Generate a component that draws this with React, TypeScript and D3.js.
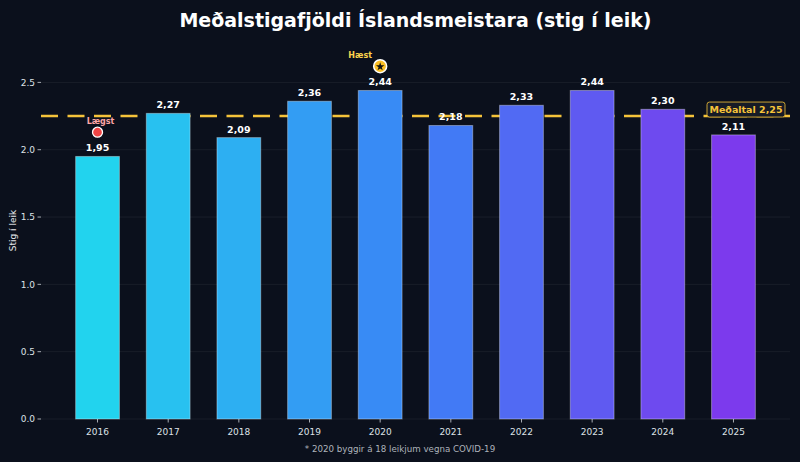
import * as d3 from "d3";

const years = ["2016", "2017", "2018", "2019", "2020", "2021", "2022", "2023", "2024", "2025"];
const values = [1.95, 2.27, 2.09, 2.36, 2.44, 2.18, 2.33, 2.44, 2.3, 2.11];
const yTicks = [0, 0.5, 1.0, 1.5, 2.0, 2.5];
const average = 2.25;

const W = 800;
const H = 462;
const M = { top: 42, right: 10, bottom: 43, left: 41 };
const FONT = "DejaVu Sans, sans-serif";
const BG = "#0b101c";
const GOLD = "#f5c33a";

const fmt = (v: number) => v.toFixed(2).replace(".", ",");

export default function App() {
  const x = d3.scaleLinear().domain([-0.8, 9.8]).range([M.left, W - M.right]);
  const y = d3.scaleLinear().domain([0, 2.8]).range([H - M.bottom, M.top]);
  const color = d3
    .scaleLinear<string>()
    .domain([0, 0.5, 1])
    .range(["#22d3ee", "#3b82f6", "#7c3aed"])
    .interpolate(d3.interpolateRgb);

  const bw = 0.62;
  const minI = values.indexOf(d3.min(values)!);
  const maxI = values.indexOf(d3.max(values)!);

  // five-point star path
  const star = d3.symbol(d3.symbolStar, 22)()!;

  return (
    <svg width={W} height={H} style={{ display: "block", position: "absolute", left: 0, top: 0, background: BG }}>
      <rect width={W} height={H} fill={BG} />
      <text x={(M.left + W - M.right) / 2} y={27} textAnchor="middle" fill="#ffffff" fontFamily={FONT} fontWeight="bold" fontSize={19}>
        Meðalstigafjöldi Íslandsmeistara (stig í leik)
      </text>

      {/* grid */}
      {yTicks.map((t) => (
        <line key={t} x1={M.left} x2={W - M.right} y1={y(t)} y2={y(t)} stroke="#ffffff" strokeOpacity={0.06} strokeWidth={1} />
      ))}

      {/* average line (behind bars) */}
      <line x1={M.left} x2={W - M.right} y1={y(average)} y2={y(average)} stroke={GOLD} strokeWidth={2.5} strokeDasharray="17 9.5" />

      {/* bars */}
      {values.map((v, i) => (
        <rect
          key={years[i]}
          x={x(i - bw / 2)}
          y={y(v)}
          width={x(bw) - x(0)}
          height={y(0) - y(v)}
          fill={color(i / (values.length - 1))}
          stroke="#ffffff"
          strokeOpacity={0.35}
          strokeWidth={1}
        />
      ))}

      {/* value labels */}
      {values.map((v, i) => (
        <text key={"l" + i} x={x(i)} y={y(v) - 5} textAnchor="middle" fill="#ffffff" fontFamily={FONT} fontWeight="bold" fontSize={9.5}>
          {fmt(v)}
        </text>
      ))}

      {/* y axis */}
      {yTicks.map((t) => (
        <g key={"yt" + t}>
          <line x1={M.left - 3.5} x2={M.left} y1={y(t)} y2={y(t)} stroke="#d1d5db" strokeWidth={0.8} />
          <text x={M.left - 6} y={y(t)} dy="0.35em" textAnchor="end" fill="#dde1e6" fontFamily={FONT} fontSize={9}>
            {t.toFixed(1)}
          </text>
        </g>
      ))}
      <text
        transform={`translate(16, ${(M.top + H - M.bottom) / 2}) rotate(-90)`}
        textAnchor="middle"
        fill="#e5e7eb"
        fontFamily={FONT}
        fontSize={9}
      >
        Stig í leik
      </text>

      {/* x axis */}
      {years.map((yr, i) => (
        <g key={"xt" + yr}>
          <line x1={x(i)} x2={x(i)} y1={y(0)} y2={y(0) + 3.5} stroke="#d1d5db" strokeWidth={0.8} />
          <text x={x(i)} y={y(0) + 16} textAnchor="middle" fill="#dde1e6" fontFamily={FONT} fontSize={9}>
            {yr}
          </text>
        </g>
      ))}

      {/* lowest marker */}
      <circle cx={x(minI)} cy={y(values[minI] + 0.18)} r={5} fill="#ef4444" stroke="#ffffff" strokeWidth={1.3} />
      <text x={x(minI) + 3} y={y(values[minI] + 0.18) - 8} textAnchor="middle" fill="#fca5a5" fontFamily={FONT} fontWeight="bold" fontSize={8}>
        Lægst
      </text>

      {/* highest marker */}
      <circle cx={x(maxI)} cy={y(values[maxI] + 0.18)} r={6.5} fill="#fbbf24" stroke="#ffffff" strokeWidth={1.5} />
      <path d={star} transform={`translate(${x(maxI)}, ${y(values[maxI] + 0.18) + 0.5})`} fill="#111111" />
      <text x={x(maxI) - 20} y={y(values[maxI] + 0.18) - 8} textAnchor="middle" fill="#fcd34d" fontFamily={FONT} fontWeight="bold" fontSize={8}>
        Hæst
      </text>

      {/* average label */}
      <rect x={707} y={y(average) - 14} width={78} height={15} rx={2.5} fill="#161b26" stroke={GOLD} strokeOpacity={0.8} strokeWidth={1} />
      <text x={746} y={y(average) - 6.5} dy="0.35em" textAnchor="middle" fill={GOLD} fontFamily={FONT} fontWeight="bold" fontSize={9.5}>
        Meðaltal {fmt(average)}
      </text>

      {/* footnote */}
      <text x={W / 2} y={452} textAnchor="middle" fill="#aeb3bb" fontFamily={FONT} fontSize={8.7}>
        * 2020 byggir á 18 leikjum vegna COVID-19
      </text>
    </svg>
  );
}
